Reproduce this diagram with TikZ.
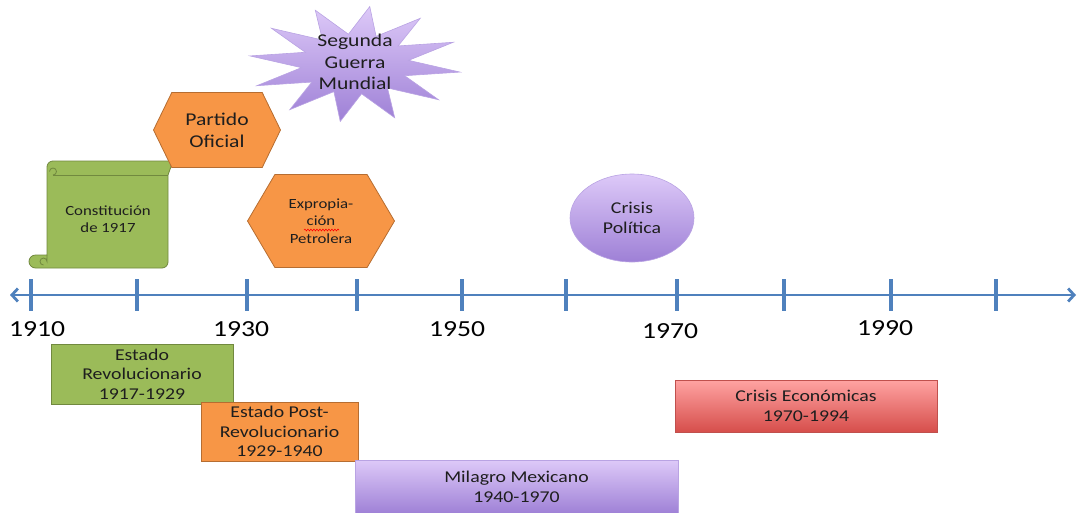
\documentclass[tikz,border=0pt]{standalone}
\usepackage{fontspec}
\setmainfont{Carlito}[FakeStretch=1.2]
\usepackage{tikz}
\usetikzlibrary{shapes.geometric, shapes.symbols, arrows.meta, decorations.pathmorphing}

\definecolor{axisblue}{HTML}{4F81BD}
\definecolor{textgray}{HTML}{1E1E1E}
\definecolor{boxgreen}{HTML}{9BBB59}
\definecolor{boxgreenline}{HTML}{71893F}
\definecolor{boxorange}{HTML}{F79646}
\definecolor{boxorangeline}{HTML}{B66D31}
\definecolor{lilactop}{HTML}{DDC9F8}
\definecolor{lilacbottom}{HTML}{9E80D6}
\definecolor{lilacline}{HTML}{B9A3E3}
\definecolor{redtop}{HTML}{FFA3A2}
\definecolor{redbottom}{HTML}{D64E4B}
\definecolor{redline}{HTML}{C0504D}

\newcommand{\yearfont}{\fontsize{23}{26}\selectfont}
\newcommand{\boxfont}{\fontsize{16.5}{19.5}\selectfont}
\newcommand{\smallboxfont}{\fontsize{14}{17.5}\selectfont}
\newcommand{\starfont}{\fontsize{18}{21.7}\selectfont}

\begin{document}
\begin{tikzpicture}[x=1pt, y=-1pt,
    txt/.style={text=textgray, align=center, inner sep=0pt},
    greenbox/.style={txt, draw=boxgreenline, fill=boxgreen, line width=0.8pt, font=\boxfont},
    orangebox/.style={txt, draw=boxorangeline, fill=boxorange, line width=0.8pt, font=\boxfont},
    lilacbox/.style={txt, draw=lilacline, top color=lilactop, bottom color=lilacbottom, line width=0.6pt, font=\boxfont},
    redbox/.style={txt, draw=redline, top color=redtop, bottom color=redbottom, line width=0.8pt, font=\boxfont},
    hexa/.style={txt, signal, signal to=west and east, draw=boxorangeline, fill=boxorange, line width=0.8pt},
    tick/.style={axisblue, line width=3.2pt}]
    \useasboundingbox (0, 0) rectangle (1078, 512);

    % time axis
    \coordinate (axisL) at (10, 295);
    \coordinate (axisR) at (1076, 295);
    \draw[axisblue, line width=2.8pt, {Straight Barb[length=6pt, width=13pt]}-{Straight Barb[length=6pt, width=13pt]}] (axisL) -- (axisR);
    \foreach \x [count=\i] in {31, 137, 247, 357, 462, 566, 677, 784, 891, 996} {
        \draw[tick] (\x, 279) -- (\x, 311);
    }

    \node[txt, text=black, font=\yearfont] at (37, 329) (y1910) {1910};
    \node[txt, text=black, font=\yearfont] at (241, 329) (y1930) {1930};
    \node[txt, text=black, font=\yearfont] at (457, 329) (y1950) {1950};
    \node[txt, text=black, font=\yearfont] at (670, 331) (y1970) {1970};
    \node[txt, text=black, font=\yearfont] at (885, 328) (y1990) {1990};

    % events above the axis
    \draw[boxgreenline, fill=boxgreen, line width=0.8pt]
        (53, 161) -- (178, 161) arc[start angle=90, end angle=-90, radius=7]
        -- (168, 175) -- (168, 262) arc[start angle=0, end angle=90, radius=6]
        -- (35.5, 268) arc[start angle=90, end angle=270, radius=6.5]
        -- (47, 255) -- (47, 167) arc[start angle=180, end angle=270, radius=6] -- cycle;
    \draw[boxgreenline, line width=0.8pt] (53, 175) -- (168, 175);
    \draw[boxgreenline, line width=0.8pt] (53, 175) arc[start angle=90, end angle=-180, radius=3.5];
    \draw[boxgreenline, line width=0.8pt] (47, 255) -- (47, 261.5) arc[start angle=0, end angle=-270, radius=3.5];
    \node[txt, font=\smallboxfont] at (108, 219) (const) {Constitución\\de 1917};

    \node[hexa, signal pointer angle=128, minimum width=127pt, minimum height=75pt, font=\starfont] at (217, 130) (partido) {Partido\\Oficial};
    \node[hexa, signal pointer angle=119, minimum width=147pt, minimum height=93pt, font=\smallboxfont] at (321, 221) (expro) {Expropia-\\ción\\Petrolera};
    \draw[red, line width=0.6pt, decorate, decoration={snake, amplitude=0.9pt, segment length=3pt}] (304, 230) -- (339, 230);

    \shade[draw=lilacline, line width=0.6pt, top color=lilactop, bottom color=lilacbottom, shift={(355, 64)}]
        plot[samples at={0,15,...,345}, variable=\t] ({(106-52*mod(\t/15,2))*cos(\t+8)}, {(58-28*mod(\t/15,2))*sin(\t+8)}) -- cycle;
    \node[txt, font=\starfont] at (355, 62) (guerra) {Segunda\\Guerra\\Mundial};

    \node[txt, ellipse, draw=lilacline, top color=lilactop, bottom color=lilacbottom, line width=0.6pt, minimum width=124pt, minimum height=88pt, font=\boxfont] at (632, 218) (politica) {Crisis\\Política};

    % periods below the axis
    \node[greenbox, minimum width=182pt, minimum height=60pt] at (142, 374) (revol) {Estado\\Revolucionario\\1917-1929};
    \node[orangebox, minimum width=157pt, minimum height=59pt] at (279.5, 431.5) (postrevol) {Estado Post-\\Revolucionario\\1929-1940};
    \node[lilacbox, minimum width=323pt, minimum height=54pt] at (516.5, 487) (milagro) {Milagro Mexicano\\1940-1970};
    \node[redbox, minimum width=262pt, minimum height=52pt] at (806, 406) (economicas) {Crisis Económicas\\1970-1994};
\end{tikzpicture}
\end{document}
